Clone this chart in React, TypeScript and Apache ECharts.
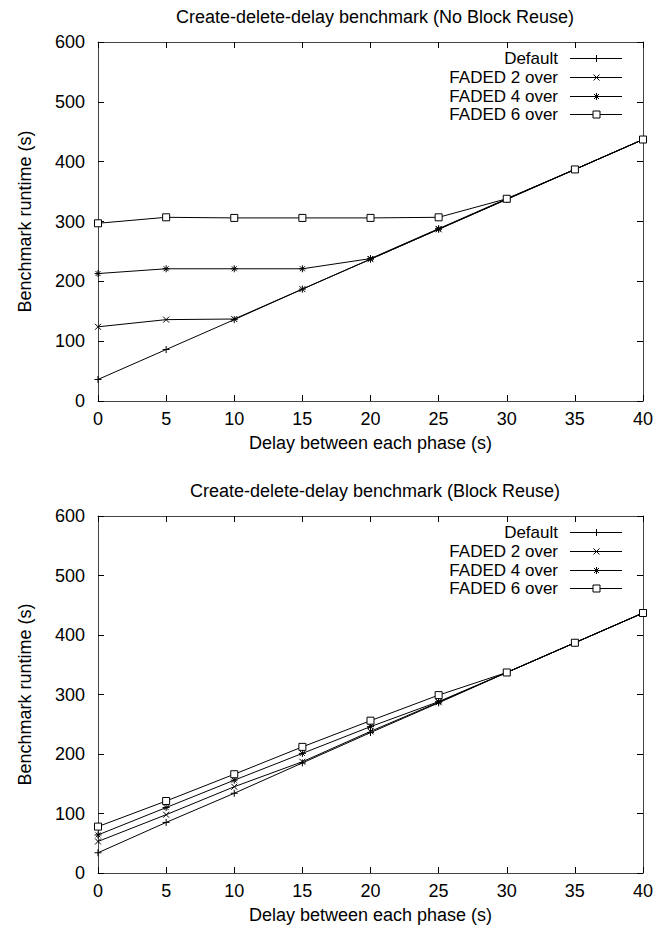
import React, { useEffect, useRef } from "react";
import * as echarts from "echarts";

const delays = [0, 5, 10, 15, 20, 25, 30, 35, 40];
const seriesNames = ["Default", "FADED 2 over", "FADED 4 over", "FADED 6 over"];

// No Block Reuse
const noReuseDefault = [36, 86, 136, 187, 237, 287, 337, 387, 437];
const noReuseFaded2 = [124, 136, 137, 187, 237, 287, 337, 387, 437];
const noReuseFaded4 = [213, 221, 221, 221, 238, 288, 338, 387, 437];
const noReuseFaded6 = [297, 307, 306, 306, 306, 307, 338, 387, 437];

// Block Reuse
const reuseDefault = [34, 85, 134, 185, 236, 286, 337, 387, 437];
const reuseFaded2 = [53, 98, 145, 187, 238, 287, 337, 387, 437];
const reuseFaded4 = [64, 110, 156, 201, 246, 288, 337, 387, 437];
const reuseFaded6 = [78, 121, 166, 212, 256, 299, 337, 387, 437];

const titles = [
  "Create-delete-delay benchmark (No Block Reuse)",
  "Create-delete-delay benchmark (Block Reuse)",
];
const xName = "Delay between each phase (s)";
const yName = "Benchmark runtime (s)";

const FONT = "'Liberation Sans', Arial, Helvetica, sans-serif";

const symbols = [
  { symbol: "path://M5,0L5,10M0,5L10,5", size: 7 },
  { symbol: "path://M0,0L10,10M0,10L10,0", size: 6 },
  { symbol: "path://M5,0L5,10M0,5L10,5M1.5,1.5L8.5,8.5M1.5,8.5L8.5,1.5", size: 7 },
  { symbol: "path://M0,0L10,0L10,10L0,10Z", size: 7 },
];

function legendMarker(kind: number, cx: number, cy: number): any[] {
  const st = { stroke: "#000", lineWidth: 1 };
  const ln = (x1: number, y1: number, x2: number, y2: number) => ({
    type: "line", silent: true,
    shape: { x1: cx + x1, y1: cy + y1, x2: cx + x2, y2: cy + y2 }, style: st,
  });
  if (kind === 0) return [ln(0, -3.5, 0, 3.5)];
  if (kind === 1) return [ln(-3, -3, 3, 3), ln(-3, 3, 3, -3)];
  if (kind === 2)
    return [ln(0, -3.5, 0, 3.5), ln(-2.5, -2.5, 2.5, 2.5), ln(-2.5, 2.5, 2.5, -2.5)];
  return [{
    type: "rect", silent: true,
    shape: { x: cx - 3.5, y: cy - 3.5, width: 7, height: 7 },
    style: { fill: "#fff", stroke: "#000", lineWidth: 1 },
  }];
}

export default function App() {
  const ref = useRef<HTMLDivElement>(null);
  useEffect(() => {
    if (!ref.current) return;
    const chart = echarts.init(ref.current, undefined, { renderer: "svg" });
    const grids = [
      { left: 98, top: 42, width: 545, height: 359 },
      { left: 98, top: 516, width: 545, height: 357 },
    ];
    const axisLine = { show: true, onZero: false, lineStyle: { color: "#444", width: 1 } };
    const tick = { show: true, inside: true, length: 6, lineStyle: { color: "#000", width: 1 } };
    const xAxes: any[] = [];
    const yAxes: any[] = [];
    grids.forEach((_, gi) => {
      xAxes.push({
        type: "value", gridIndex: gi, min: 0, max: 40, interval: 5, position: "bottom",
        name: xName, nameLocation: "middle", nameGap: 33,
        nameTextStyle: { fontFamily: FONT, fontSize: 18, color: "#000" },
        axisLine, axisTick: tick, splitLine: { show: false },
        axisLabel: { fontFamily: FONT, fontSize: 18, color: "#000", margin: 9 },
      });
      xAxes.push({
        type: "value", gridIndex: gi, min: 0, max: 40, interval: 5, position: "top",
        axisLine, axisTick: tick, splitLine: { show: false }, axisLabel: { show: false },
      });
      yAxes.push({
        type: "value", gridIndex: gi, min: 0, max: 600, interval: 100, position: "left",
        name: yName, nameLocation: "middle", nameGap: 64,
        nameTextStyle: { fontFamily: FONT, fontSize: 18, color: "#000" },
        axisLine, axisTick: tick, splitLine: { show: false },
        axisLabel: { fontFamily: FONT, fontSize: 18, color: "#000", margin: 13 },
      });
      yAxes.push({
        type: "value", gridIndex: gi, min: 0, max: 600, interval: 100, position: "right",
        axisLine, axisTick: tick, splitLine: { show: false }, axisLabel: { show: false },
      });
    });
    const dataSets = [
      [noReuseDefault, noReuseFaded2, noReuseFaded4, noReuseFaded6],
      [reuseDefault, reuseFaded2, reuseFaded4, reuseFaded6],
    ];
    const series: any[] = [];
    dataSets.forEach((set, gi) => {
      set.forEach((vals, si) => {
        series.push({
          type: "line",
          name: seriesNames[si],
          xAxisIndex: gi * 2,
          yAxisIndex: gi * 2,
          data: delays.map((d, i) => [d, vals[i]]),
          symbol: symbols[si].symbol,
          symbolSize: symbols[si].size,
          showAllSymbol: true,
          clip: false,
          lineStyle: { color: "#000", width: 1 },
          itemStyle: { color: si === 3 ? "#fff" : "#000", borderColor: "#000", borderWidth: 1 },
          emphasis: { disabled: true },
        });
      });
    });
    const legendRows = [58.5, 77.5, 96.5, 114.5];
    const graphics: any[] = [];
    [0, 474].forEach((off) => {
      seriesNames.forEach((n, i) => {
        const cy = legendRows[i] + off;
        graphics.push({
          type: "text", silent: true, x: 558, y: cy,
          style: {
            text: n, fontFamily: FONT, fontSize: 17, fill: "#000",
            textAlign: "right", textVerticalAlign: "middle",
          },
        });
        graphics.push({
          type: "line", silent: true,
          shape: { x1: 570, y1: cy, x2: 622, y2: cy },
          style: { stroke: "#000", lineWidth: 1 },
        });
        graphics.push(...legendMarker(i, 596.5, cy));
      });
    });
    chart.setOption({
      animation: false,
      backgroundColor: "#fff",
      title: titles.map((t, i) => ({
        text: t,
        left: 370,
        textAlign: "center",
        top: i === 0 ? 3 : 477,
        textStyle: { fontFamily: FONT, fontSize: 18, fontWeight: "normal", color: "#000" },
      })),
      grid: grids,
      xAxis: xAxes,
      yAxis: yAxes,
      graphic: graphics,
      series,
    });
    return () => chart.dispose();
  }, []);
  return (
    <div
      ref={ref}
      style={{ position: "absolute", left: 0, top: 0, width: 658, height: 934 }}
    />
  );
}
